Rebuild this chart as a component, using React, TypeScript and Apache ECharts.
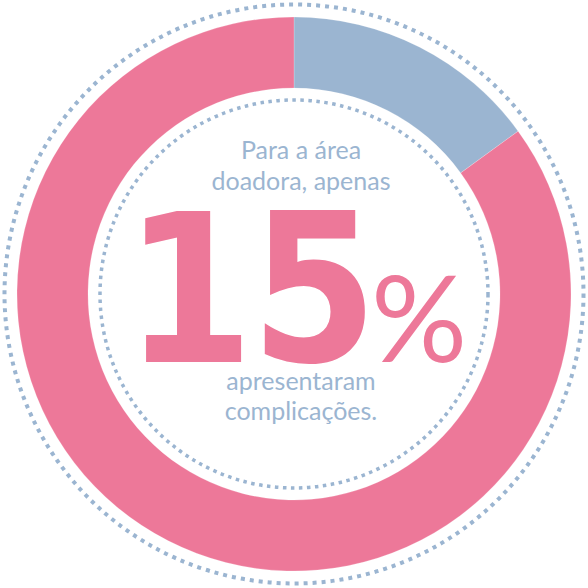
import { useEffect, useRef } from 'react';
import * as echarts from 'echarts';

// dados do gráfico
const categories = ['Com complicações', 'Sem complicações'];
const values = [15, 85];
const colors = ['#9BB5D1', '#ED7899'];
const topLines = ['Para a área', 'doadora, apenas'];
const bottomLines = ['apresentaram', 'complicações.'];
const bigNumber = ['1', '5'];

const BLUE = '#9BB5D1';
const PINK = '#ED7899';
const CX = 294;
const CY = 294;

export default function App() {
  const chartRef = useRef<HTMLDivElement>(null);

  useEffect(() => {
    if (!chartRef.current) return;
    const chart = echarts.init(chartRef.current, undefined, { renderer: 'svg' });

    const smallText = (text: string, y: number) => ({
      type: 'text',
      x: 301,
      y,
      style: {
        text,
        fill: BLUE,
        font: '25px Lato',
        lineHeight: 24,
        align: 'center',
        verticalAlign: 'middle',
      },
    });

    const bigText = (text: string, x: number, y: number, font: string, lh: number, sx = 1) => ({
      type: 'text',
      x,
      y,
      scaleX: sx,
      style: { text, fill: PINK, font, lineHeight: lh, align: 'center', verticalAlign: 'middle' },
    });

    chart.setOption({
      animation: false,
      backgroundColor: '#ffffff',
      series: [
        {
          type: 'pie',
          center: [CX, CY],
          radius: [206, 277],
          startAngle: 90,
          clockwise: true,
          silent: true,
          label: { show: false },
          labelLine: { show: false },
          itemStyle: { borderColor: 'rgba(255,255,255,0.4)', borderWidth: 0.5 },
          data: categories.map((name, i) => ({
            name,
            value: values[i],
            itemStyle: { color: colors[i] },
          })),
        },
      ],
      graphic: [
        {
          type: 'circle',
          shape: { cx: CX, cy: CY, r: 289.5 },
          style: { fill: 'none', stroke: BLUE, lineWidth: 4, lineDash: [4, 5] },
          silent: true,
        },
        {
          type: 'circle',
          shape: { cx: CX, cy: CY, r: 194 },
          style: { fill: 'none', stroke: BLUE, lineWidth: 3.5, lineDash: [3.5, 4.5] },
          silent: true,
        },
        smallText(topLines[0], 148.5),
        smallText(topLines[1], 179.5),
        smallText(bottomLines[0], 380),
        smallText(bottomLines[1], 410),
        bigText(bigNumber[0], 189, 289.5, 'bold 207px "DejaVu Sans"', 150, 0.9),
        bigText(bigNumber[1], 314, 289.5, 'bold 207px "DejaVu Sans"', 150, 0.88),
        bigText('%', 419, 316, '120px Lato', 86),
      ],
    });

    return () => {
      chart.dispose();
    };
  }, []);

  return (
    <div
      ref={chartRef}
      style={{ position: 'fixed', left: 0, top: 0, width: 588, height: 588 }}
    />
  );
}
